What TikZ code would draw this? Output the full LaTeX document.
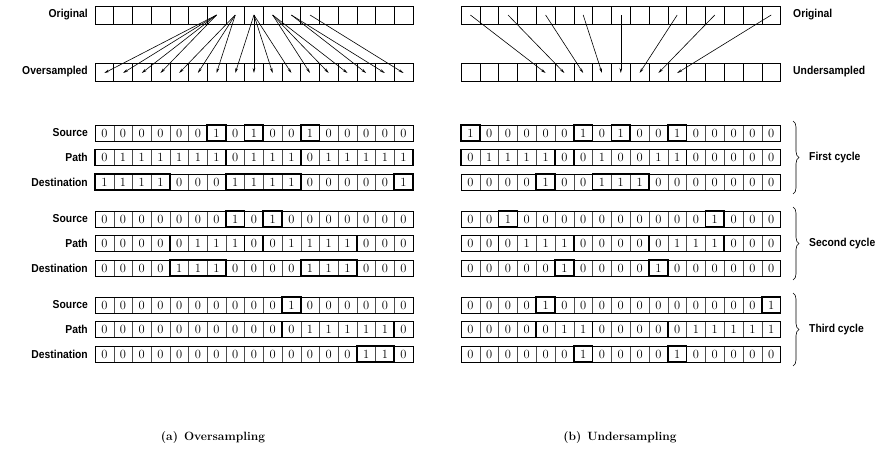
\documentclass[tikz,border=0pt]{standalone}
\usepackage{fontspec}
\newfontfamily\labfont[FakeStretch=0.9]{Liberation Sans}
\usetikzlibrary{decorations.pathreplacing,arrows.meta}
\tikzset{
  lab/.style={font=\labfont\bfseries\fontsize{11.5}{13}\selectfont, inner sep=0pt},
  bitcell/.style={draw=black!70, line width=0.4pt, minimum height=16pt, inner sep=0pt, outer sep=0pt,
    font=\fontsize{12.5}{14}\selectfont},
  gcell/.style={draw=black, line width=0.6pt, minimum height=18pt, inner sep=0pt, outer sep=0pt},
  rowframe/.style={draw=black, line width=0.8pt},
  boldframe/.style={draw=black, line width=1.7pt},
  arr/.style={line width=0.6pt, -{Stealth[length=5pt,width=2.6pt]}},
  bracestyle/.style={decorate, decoration={brace, amplitude=6pt}, line width=0.6pt},
  captext/.style={font=\bfseries\fontsize{12}{14}\selectfont, inner sep=0pt}
}
\newcommand\bitrow[6]{%
  \foreach \b [count=\i from 0] in {#5}{
    \node[bitcell, minimum width=#3 pt] (#1-\i) at ({#2+(\i+0.5)*#3}, #4) {\b};
  }
  \draw[rowframe] (#1-0.north west) rectangle (#1-16.south east);
  \foreach \a/\c in {#6}{\draw[boldframe] (#1-\a.north west) rectangle (#1-\c.south east);}
}
\newcommand\gridrow[4]{%
  \foreach \i in {0,...,16}{
    \node[gcell, minimum width=#3 pt] (#1-\i) at ({#2+(\i+0.5)*#3}, #4) {};
  }
}
\begin{document}
\begin{tikzpicture}[x=1pt,y=-1pt]
\useasboundingbox (0,0) rectangle (886,459);
% ---------- top left ----------
\gridrow{lo}{95}{18.7}{15}
\gridrow{lv}{95}{18.7}{72}
\node[lab, anchor=east] (tlo) at (88,15) {Original};
\node[lab, anchor=east] (tlv) at (88,72) {Oversampled};
\foreach \s/\t in {6/0,6/1,6/2,6/3,7/4,7/5,7/6,8/7,8/8,8/9,8/10,9/11,9/12,9/13,10/14,10/15,11/16}{
  \draw[arr] (lo-\s.center) -- ([yshift=-1pt]lv-\t.center);
}
% ---------- top right ----------
\gridrow{ro}{461}{18.8}{15}
\gridrow{ru}{461}{18.8}{72}
\node[lab, anchor=west] (tro) at (793,15) {Original};
\node[lab, anchor=west] (tru) at (793,72) {Undersampled};
\foreach \s/\t in {0/4,2/5,4/6,6/7,8/8,11/9,13/10,16/11}{
  \draw[arr] (ro-\s.center) -- ([yshift=-1pt]ru-\t.center);
}
% ---------- left bit rows ----------
\node[lab, anchor=east] (ls1) at (88,133) {Source};
\node[lab, anchor=east] (lp1) at (88,157.5) {Path};
\node[lab, anchor=east] (ld1) at (88,182) {Destination};
\node[lab, anchor=east] (ls2) at (88,219) {Source};
\node[lab, anchor=east] (lp2) at (88,243.5) {Path};
\node[lab, anchor=east] (ld2) at (88,268) {Destination};
\node[lab, anchor=east] (ls3) at (88,305) {Source};
\node[lab, anchor=east] (lp3) at (88,329.5) {Path};
\node[lab, anchor=east] (ld3) at (88,354) {Destination};
\bitrow{LAS}{95}{18.7}{133}{0,0,0,0,0,0,1,0,1,0,0,1,0,0,0,0,0}{6/6,8/8,11/11}
\bitrow{LAP}{95}{18.7}{157.5}{0,1,1,1,1,1,1,0,1,1,1,0,1,1,1,1,1}{0/6,7/10,11/16}
\bitrow{LAD}{95}{18.7}{182}{1,1,1,1,0,0,0,1,1,1,1,0,0,0,0,0,1}{0/3,7/10,16/16}
\bitrow{LBS}{95}{18.7}{219}{0,0,0,0,0,0,0,1,0,1,0,0,0,0,0,0,0}{7/7,9/9}
\bitrow{LBP}{95}{18.7}{243.5}{0,0,0,0,0,1,1,1,0,0,1,1,1,1,0,0,0}{4/7,9/13}
\bitrow{LBD}{95}{18.7}{268}{0,0,0,0,1,1,1,0,0,0,0,1,1,1,0,0,0}{4/6,11/13}
\bitrow{LCS}{95}{18.7}{305}{0,0,0,0,0,0,0,0,0,0,1,0,0,0,0,0,0}{10/10}
\bitrow{LCP}{95}{18.7}{329.5}{0,0,0,0,0,0,0,0,0,0,0,1,1,1,1,1,0}{10/15}
\bitrow{LCD}{95}{18.7}{354}{0,0,0,0,0,0,0,0,0,0,0,0,0,0,1,1,0}{14/15}
% ---------- right bit rows ----------
\bitrow{RAS}{461}{18.8}{133}{1,0,0,0,0,0,1,0,1,0,0,1,0,0,0,0,0}{0/0,6/6,8/8,11/11}
\bitrow{RAP}{461}{18.8}{157.5}{0,1,1,1,1,0,0,1,0,0,1,1,0,0,0,0,0}{0/4,6/11}
\bitrow{RAD}{461}{18.8}{182}{0,0,0,0,1,0,0,1,1,1,0,0,0,0,0,0,0}{4/4,7/9}
\bitrow{RBS}{461}{18.8}{219}{0,0,1,0,0,0,0,0,0,0,0,0,0,1,0,0,0}{2/2,13/13}
\bitrow{RBP}{461}{18.8}{243.5}{0,0,0,1,1,1,0,0,0,0,0,1,1,1,0,0,0}{2/5,10/13}
\bitrow{RBD}{461}{18.8}{268}{0,0,0,0,0,1,0,0,0,0,1,0,0,0,0,0,0}{5/5,10/10}
\bitrow{RCS}{461}{18.8}{305}{0,0,0,0,1,0,0,0,0,0,0,0,0,0,0,0,1}{4/4,16/16}
\bitrow{RCP}{461}{18.8}{329.5}{0,0,0,0,0,1,1,0,0,0,0,0,1,1,1,1,1}{4/6,11/16}
\bitrow{RCD}{461}{18.8}{354}{0,0,0,0,0,0,1,0,0,0,0,1,0,0,0,0,0}{6/6,11/11}
% ---------- braces ----------
\draw[bracestyle] (793,121) -- (793,194);
\draw[bracestyle] (793,207) -- (793,280);
\draw[bracestyle] (793,293) -- (793,366);
\node[lab, anchor=west] (c1) at (809,157.5) {First cycle};
\node[lab, anchor=west] (c2) at (809,243.5) {Second cycle};
\node[lab, anchor=west] (c3) at (809,329.5) {Third cycle};
% ---------- captions ----------
\node[captext] (capa) at (213,437) {(a)\enspace Oversampling};
\node[captext] (capb) at (620,437) {(b)\enspace Undersampling};
\end{tikzpicture}
\end{document}
